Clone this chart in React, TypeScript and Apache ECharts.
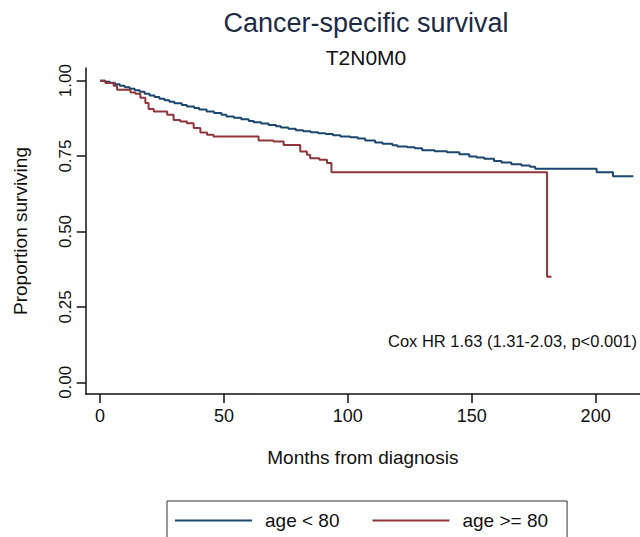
import React, { useEffect, useRef } from "react";
import * as echarts from "echarts";

// Kaplan-Meier step points (months, proportion surviving)
const youngMonths = [0, 2, 4, 6, 8, 10, 12, 14, 16, 18, 20, 22, 24, 26, 28, 30, 33, 35, 38, 40, 43, 46, 49, 51, 54, 57, 60, 62, 65, 68, 71, 73, 76, 79, 82, 85, 88, 91, 94, 97, 101, 104, 107, 111, 114, 118, 120, 124, 127, 130, 135, 140, 145, 149, 152, 155, 159, 162, 166, 170, 173.5, 175.6, 200.4, 207, 215.2];
const youngSurv = [1.0, 0.996, 0.993, 0.988, 0.983, 0.978, 0.973, 0.968, 0.963, 0.957, 0.951, 0.946, 0.94, 0.935, 0.93, 0.925, 0.919, 0.914, 0.909, 0.904, 0.898, 0.893, 0.887, 0.881, 0.877, 0.872, 0.866, 0.862, 0.858, 0.853, 0.849, 0.845, 0.841, 0.836, 0.832, 0.829, 0.826, 0.823, 0.819, 0.815, 0.812, 0.808, 0.802, 0.795, 0.791, 0.786, 0.782, 0.779, 0.776, 0.769, 0.766, 0.763, 0.756, 0.749, 0.745, 0.741, 0.734, 0.729, 0.723, 0.719, 0.715, 0.708, 0.696, 0.683, 0.683];

const oldMonths = [0, 2.2, 5.5, 6.9, 12.3, 14.3, 16.3, 18.3, 19.6, 21.7, 27.1, 29.7, 32.4, 35.1, 37.8, 40.5, 43.2, 45.8, 64.0, 70.0, 74.1, 80.8, 83.5, 84.8, 88.5, 91.6, 93.4, 180.4, 182.2];
const oldSurv = [1.0, 0.992, 0.983, 0.97, 0.961, 0.957, 0.943, 0.926, 0.906, 0.898, 0.887, 0.87, 0.865, 0.859, 0.843, 0.828, 0.821, 0.815, 0.802, 0.798, 0.787, 0.765, 0.754, 0.743, 0.738, 0.727, 0.696, 0.35, 0.35];

const seriesNames = ["age < 80", "age >= 80"];
const xTicks = [0, 50, 100, 150, 200];
const yTicks = [0, 0.25, 0.5, 0.75, 1];
const titleText = "Cancer-specific survival";
const subtitleText = "T2N0M0";
const coxText = "Cox HR 1.63 (1.31-2.03, p<0.001)";
const xName = "Months from diagnosis";
const yName = "Proportion surviving";

const FONT = "'Liberation Sans', Arial, Helvetica, sans-serif";
const NAVY = "#1a476f";
const MAROON = "#90353b";

export default function App() {
  const ref = useRef<HTMLDivElement>(null);
  useEffect(() => {
    if (!ref.current) return;
    const chart = echarts.init(ref.current, null, { renderer: "svg" });
    const zip = (xs: number[], ys: number[]) => xs.map((x, i) => [x, ys[i]]);
    chart.setOption({
      animation: false,
      backgroundColor: "#ffffff",
      textStyle: { fontFamily: FONT },
      grid: { left: 85.7, right: 0, top: 68, bottom: 143, outerBoundsMode: "none" },
      xAxis: {
        type: "value",
        min: -5.77,
        max: 217.9,
        name: xName,
        nameLocation: "middle",
        nameGap: 54,
        nameTextStyle: { fontSize: 19, color: "#111", fontFamily: FONT },
        axisLine: { show: true, onZero: false, lineStyle: { color: "#111", width: 1.5 } },
        axisTick: { show: true, length: 9, customValues: xTicks, lineStyle: { color: "#111", width: 1.5 } },
        axisLabel: { customValues: xTicks, margin: 13, fontSize: 18, color: "#111", fontFamily: FONT },
        splitLine: { show: false },
      },
      yAxis: {
        type: "value",
        min: -0.0388,
        max: 1.042,
        name: yName,
        nameLocation: "middle",
        nameRotate: 90,
        nameGap: 56,
        nameTextStyle: { fontSize: 19, color: "#111", fontFamily: FONT },
        axisLine: { show: true, onZero: false, lineStyle: { color: "#111", width: 1.5 } },
        axisTick: { show: true, length: 9, customValues: yTicks, lineStyle: { color: "#111", width: 1.5 } },
        axisLabel: {
          customValues: yTicks,
          rotate: 90,
          margin: 12,
          fontSize: 17,
          color: "#111",
          fontFamily: FONT,
          formatter: (v: number) => v.toFixed(2),
        },
        splitLine: { show: false },
      },
      legend: {
        data: seriesNames,
        left: 167,
        top: 501,
        orient: "horizontal",
        icon: "rect",
        itemWidth: 77,
        itemHeight: 2,
        itemGap: 33,
        padding: [10, 19, 10, 8],
        borderColor: "#333",
        borderWidth: 1,
        textStyle: { fontSize: 19, color: "#111", fontFamily: FONT, padding: [0, 0, 0, 8] },
      },
      graphic: [
        {
          type: "text",
          x: 366,
          y: 23,
          style: { text: titleText, fontSize: 27, fill: "#1c2b45", fontFamily: FONT, align: "center", verticalAlign: "middle" },
        },
        {
          type: "text",
          x: 366,
          y: 57,
          style: { text: subtitleText, fontSize: 21, fill: "#111", fontFamily: FONT, align: "center", verticalAlign: "middle" },
        },
        {
          type: "text",
          x: 637,
          y: 341,
          style: { text: coxText, fontSize: 16.5, fill: "#111", fontFamily: FONT, align: "right", verticalAlign: "middle" },
        },
      ],
      series: [
        {
          name: seriesNames[0],
          type: "line",
          step: "end",
          showSymbol: false,
          data: zip(youngMonths, youngSurv),
          lineStyle: { color: NAVY, width: 2 },
          itemStyle: { color: NAVY },
        },
        {
          name: seriesNames[1],
          type: "line",
          step: "end",
          showSymbol: false,
          data: zip(oldMonths, oldSurv),
          lineStyle: { color: MAROON, width: 2 },
          itemStyle: { color: MAROON },
        },
      ],
    });
    return () => chart.dispose();
  }, []);
  return <div ref={ref} style={{ width: 640, height: 537, position: "absolute", left: 0, top: 0 }} />;
}
